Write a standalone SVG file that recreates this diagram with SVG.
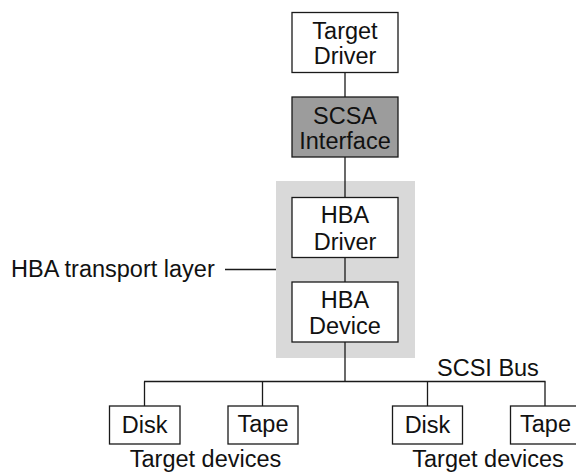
<svg xmlns="http://www.w3.org/2000/svg" width="576" height="473" viewBox="0 0 576 473">
<style>
  .box { fill: #ffffff; stroke: #1a1a1a; stroke-width: 1.3; }
  .dark { fill: #9c9c9c; stroke: #1a1a1a; stroke-width: 1.3; }
  .layer { fill: #d9d9d9; stroke: none; }
  .line { stroke: #1a1a1a; stroke-width: 1.3; fill: none; }
  text { font-family: "Liberation Sans", Arial, Helvetica, sans-serif; font-size: 23.5px; fill: #111111; }
  .c { text-anchor: middle; }
</style>
<rect width="576" height="473" fill="#ffffff"/>
<g id="hba-transport-layer">
  <rect class="layer" x="276" y="181" width="139" height="177"/>
  <text x="11" y="276.5">HBA transport layer</text>
</g>
<g id="connectors">
  <line class="line" x1="345" y1="72" x2="345" y2="97"/>
  <line class="line" x1="345" y1="157" x2="345" y2="197"/>
  <line class="line" x1="345" y1="258" x2="345" y2="282"/>
  <line class="line" x1="345" y1="342" x2="345" y2="381.5"/>
  <line class="line" x1="144" y1="381.5" x2="545.5" y2="381.5"/>
  <line class="line" x1="144.5" y1="381.5" x2="144.5" y2="406"/>
  <line class="line" x1="262.5" y1="381.5" x2="262.5" y2="406"/>
  <line class="line" x1="427.5" y1="381.5" x2="427.5" y2="406"/>
  <line class="line" x1="545" y1="381.5" x2="545" y2="406"/>
  <line class="line" x1="225" y1="269.5" x2="276" y2="269.5"/>
</g>
<g id="target-driver">
  <rect class="box" x="292" y="12.5" width="106" height="60"/>
  <text class="c" x="345" y="38.5">Target</text>
  <text class="c" x="345" y="64">Driver</text>
</g>
<g id="scsa-interface">
  <rect class="dark" x="292" y="97" width="106" height="60"/>
  <text class="c" x="345" y="123.5">SCSA</text>
  <text class="c" x="345" y="148.5">Interface</text>
</g>
<g id="hba-driver">
  <rect class="box" x="292" y="197.5" width="106" height="60"/>
  <text class="c" x="345" y="223">HBA</text>
  <text class="c" x="345" y="249.5">Driver</text>
</g>
<g id="hba-device">
  <rect class="box" x="292" y="282" width="106" height="60"/>
  <text class="c" x="345" y="308">HBA</text>
  <text class="c" x="345" y="334">Device</text>
</g>
<g id="scsi-bus-label">
  <text x="437" y="376">SCSI Bus</text>
</g>
<g id="disk-1">
  <rect class="box" x="109.5" y="406" width="70.5" height="38"/>
  <text class="c" x="144.7" y="433">Disk</text>
</g>
<g id="tape-1">
  <rect class="box" x="228" y="406" width="70" height="38"/>
  <text class="c" x="263" y="431.5">Tape</text>
</g>
<g id="disk-2">
  <rect class="box" x="392.5" y="406" width="70" height="38"/>
  <text class="c" x="427.5" y="433">Disk</text>
</g>
<g id="tape-2">
  <rect class="box" x="510.5" y="406" width="70" height="38"/>
  <text class="c" x="545.5" y="431.5">Tape</text>
</g>
<g id="target-devices-labels">
  <text class="c" x="205.5" y="467">Target devices</text>
  <text class="c" x="488" y="467">Target devices</text>
</g>
</svg>
